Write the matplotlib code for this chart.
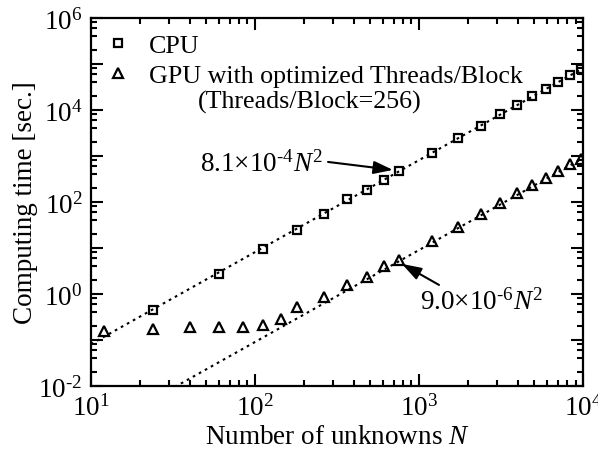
import numpy as np
import matplotlib
matplotlib.use("Agg")
import matplotlib.pyplot as plt
from matplotlib.ticker import LogLocator, FuncFormatter, NullFormatter

# ================= DATA =================
N_CPU = [24, 60, 112, 180, 264, 364, 480, 612, 760, 1200, 1740, 2380,
         3120, 3960, 4900, 5940, 7080, 8320, 9660]
T_CPU = [0.456, 2.72, 9.5, 25.0, 54.9, 116, 185, 305, 472, 1163, 2426, 4560,
         8070, 12850, 20150, 29030, 41240, 57630, 77870]

N_GPU = [12, 24, 40, 60, 84, 112, 144, 180, 264, 364, 480, 612, 760, 1200,
         1740, 2380, 3120, 3960, 4900, 5940, 7080, 8320, 9660]
T_GPU = [0.155, 0.173, 0.189, 0.189, 0.189, 0.215, 0.286, 0.514, 0.848, 1.57,
         2.38, 4.0, 5.48, 14.4, 29.0, 54.9, 93.7, 154.6, 234, 337, 472, 670, 861]

# fitted N^2 coefficients (as labelled)
COEF_CPU = 8.1e-4
COEF_GPU = 9.0e-6
N_FIT = np.array([10, 1e4])
# ========================================

FS = 19.5       # axis labels / annotations
FS_LEG = 18.7   # legend text
plt.rcParams['font.family'] = ['Liberation Serif', 'DejaVu Serif']
plt.rcParams['mathtext.fontset'] = 'custom'
plt.rcParams['mathtext.rm'] = 'Liberation Serif'
plt.rcParams['mathtext.it'] = 'Liberation Serif:italic'
plt.rcParams['font.size'] = FS

fig = plt.figure(figsize=(5.98, 4.52), dpi=100)
ax = fig.add_axes([0.152, 0.144, 0.823, 0.814])

dots = (0, (1.3, 2.0))
ax.plot(N_FIT, COEF_CPU * N_FIT**2, color='k', lw=1.5, linestyle=dots, zorder=1)
ax.plot(N_FIT, COEF_GPU * N_FIT**2, color='k', lw=1.5, linestyle=dots, zorder=1)

ax.plot(N_CPU, T_CPU, linestyle='none', marker='s', markersize=6,
        markerfacecolor='none', markeredgecolor='k', markeredgewidth=1.6,
        label='CPU', zorder=3)
ax.plot(N_GPU, T_GPU, linestyle='none', marker='^', markersize=7.5,
        markerfacecolor='none', markeredgecolor='k', markeredgewidth=1.6,
        label='GPU with optimized Threads/Block', zorder=3)

ax.set_xscale('log')
ax.set_yscale('log')
ax.set_xlim(10, 1e4)
ax.set_ylim(1e-2, 1e6)

ax.xaxis.set_major_locator(LogLocator(base=10, numticks=10))
ax.xaxis.set_minor_locator(LogLocator(base=10, subs=np.arange(2, 10), numticks=20))
ax.xaxis.set_minor_formatter(NullFormatter())
ax.yaxis.set_major_locator(LogLocator(base=10, numticks=20))
ax.yaxis.set_minor_locator(LogLocator(base=10, subs=[2, 4, 6, 8], numticks=20))
ax.yaxis.set_minor_formatter(NullFormatter())


def pow10(e):
    # short hyphen instead of the long math minus, like the original
    if e < 0:
        return r'10$^{\text{-}%d}$' % (-e)
    return r'10$^{%d}$' % e


def exp_label(v, pos):
    return pow10(int(round(np.log10(v))))


def even_exp_label(v, pos):
    e = int(round(np.log10(v)))
    if e % 2:
        return ''
    return pow10(e)


ax.xaxis.set_major_formatter(FuncFormatter(exp_label))
ax.yaxis.set_major_formatter(FuncFormatter(even_exp_label))

ax.tick_params(which='both', direction='in', top=True, right=True, width=1.5)
ax.tick_params(which='major', length=8.5, pad=6)
ax.tick_params(which='minor', length=4.3)
for s in ax.spines.values():
    s.set_linewidth(1.6)

ax.set_xlabel(r'Number of unknowns $N$', labelpad=2)
ax.set_ylabel('Computing time [sec.]', labelpad=0.5)

leg = ax.legend(loc='upper left', bbox_to_anchor=(0.028, 0.958), borderaxespad=0,
                borderpad=0, frameon=False, handlelength=1.0, handletextpad=0.7,
                labelspacing=0.27, fontsize=FS_LEG)
ax.text(0.2175, 0.772, '(Threads/Block=256)', transform=ax.transAxes,
        ha='left', va='center', fontsize=FS_LEG)

# annotations
ax.text(46, 472, r'8.1$\times$10$^{\text{-}4}$$N^2$', ha='left', va='baseline', fontsize=FS)
ax.annotate('', xy=(694, 497), xytext=(279, 741),
            arrowprops=dict(arrowstyle='-|>,head_length=0.6,head_width=0.2',
                            color='k', lw=1.5, shrinkA=0, shrinkB=0))
ax.text(1014, 0.472, r'9.0$\times$10$^{\text{-}6}$$N^2$', ha='left', va='baseline', fontsize=FS)
ax.annotate('', xy=(787, 4.49), xytext=(1324, 1.57),
            arrowprops=dict(arrowstyle='-|>,head_length=0.6,head_width=0.2',
                            color='k', lw=1.5, shrinkA=0, shrinkB=0))

fig.savefig('out.png', dpi=100)
